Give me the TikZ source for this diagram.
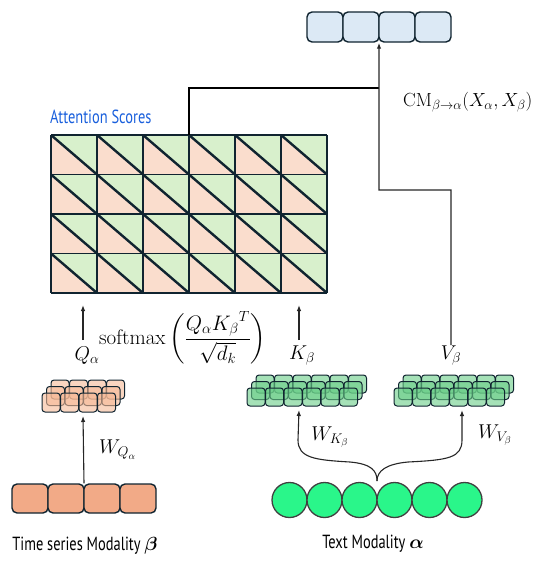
\documentclass[tikz,border=0pt]{standalone}
\usepackage{fix-cm}
\usepackage{amsmath}
\usepackage{amssymb}
\usepackage{bm}
\usepackage{fontspec}
\newfontfamily\capfont[FakeStretch=0.76]{PT Sans}
\usetikzlibrary{calc, arrows.meta}

\definecolor{navy}{RGB}{16,36,48}
\definecolor{cellpink}{RGB}{250,221,205}
\definecolor{cellgreen}{RGB}{216,240,204}
\definecolor{outblue}{RGB}{220,233,245}
\definecolor{salmon}{RGB}{242,170,135}
\definecolor{qsalmon}{RGB}{245,185,150}
\definecolor{kgreen}{RGB}{105,205,135}
\definecolor{tokgreen}{RGB}{42,246,138}
\definecolor{scoreblue}{RGB}{25,95,220}

\begin{document}
\begin{tikzpicture}[x=1pt, y=-1pt,
    outbox/.style={draw=navy, fill=outblue, line width=1.4pt, rounded corners=5pt,
        minimum width=36pt, minimum height=30pt, inner sep=0pt},
    tsbox/.style={draw=navy, fill=salmon, line width=1.4pt, rounded corners=5pt,
        minimum width=36pt, minimum height=29pt, inner sep=0pt},
    token/.style={circle, draw=black!75, fill=tokgreen, line width=1.3pt,
        minimum size=35pt, inner sep=0pt},
    qcell/.style={draw=navy, fill=qsalmon, fill opacity=0.6, line width=1pt,
        rounded corners=3pt},
    kvcell/.style={draw=navy, fill=kgreen, fill opacity=0.6, line width=1pt,
        rounded corners=3pt},
    flow/.style={-{Latex[length=6pt, width=4.5pt]}, line width=1.1pt, black!85},
    mathlbl/.style={font=\fontsize{20}{24}\selectfont, inner sep=1pt},
    caption/.style={font=\capfont\fontsize{19}{22}\selectfont, inner sep=0pt}]

    \useasboundingbox (0,0) rectangle (550,562);

    % attention score grid
    \foreach \c in {0,...,5}
        \foreach \r in {0,...,3} {
            \coordinate (tl) at (51+46*\c, 135+39.5*\r);
            \fill[cellpink] (tl) -- ++(0,39.5) -- ++(46,0) -- cycle;
            \fill[cellgreen] (tl) -- ++(46,0) -- ++(0,39.5) -- cycle;
            \draw[navy, line width=2.4pt] (tl) -- ++(46,39.5);
        }
    \foreach \c in {0,...,6}
        \draw[navy, line width=1.6pt] (51+46*\c,135) -- (51+46*\c,293);
    \foreach \r in {0,...,4}
        \draw[navy, line width=1.6pt] (51,135+39.5*\r) -- (327,135+39.5*\r);
    \node[caption, anchor=base west, text=scoreblue] (scores) at (50,123) {Attention Scores};

    % output tokens
    \foreach \i in {1,...,4}
        \node[outbox] (o\i) at (289+36*\i, 27) {};

    % time series input
    \foreach \i in {1,...,4}
        \node[tsbox] (s\i) at (-6+36*\i, 498.5) {};
    \node[caption, anchor=base] (tsname) at (85,550) {Time series Modality $\bm{\beta}$};

    % text input
    \foreach \i in {1,...,6}
        \node[token] (t\i) at (254.5+35*\i, 500) {};
    \node[caption, anchor=base] (txtname) at (373,548) {Text Modality $\bm{\alpha}$};

    % projected stacks, back layer first
    \foreach \l in {2,1,0} {
        \foreach \k in {0,...,3}
            \draw[qcell] (42+18.5*\k+4.5*\l, 393-6.5*\l) rectangle ++(18,19);
        \foreach \k in {0,...,5} {
            \draw[kvcell] (247+18.5*\k+4.5*\l, 388-6.5*\l) rectangle ++(18,18);
            \draw[kvcell] (394+18.5*\k+4.5*\l, 388-6.5*\l) rectangle ++(18,18);
        }
    }
    \coordinate (qbot) at (83,416);
    \coordinate (kbot) at (299,410);
    \coordinate (vbot) at (462,410);

    % labels
    \node[mathlbl] (qa) at (87,356) {$Q_\alpha$};
    \node[mathlbl] (kb) at (302,356) {$K_\beta$};
    \node[mathlbl] (vb) at (451,356) {$V_\beta$};
    \node[mathlbl, anchor=west] (wq) at (98,450) {$W_{Q_\alpha}$};
    \node[mathlbl] (wk) at (330,437) {$W_{K_\beta}$};
    \node[mathlbl] (wv) at (495,435) {$W_{V_\beta}$};
    \node[mathlbl, font=\fontsize{21}{25}\selectfont, anchor=west] (soft) at (98,338)
        {$\mathrm{softmax}\left(\dfrac{Q_\alpha {K_\beta}^T}{\sqrt{d_k}}\right)$};
    \node[mathlbl, font=\fontsize{19}{23}\selectfont, anchor=west] (cm) at (402,102)
        {$\mathrm{CM}_{\beta\to\alpha}(X_\alpha, X_\beta)$};

    % connectors
    \coordinate (tip) at ($(t3.east)!0.5!(t4.west) + (0,-19)$);
    \coordinate (join) at (379,88);
    \coordinate (bend) at (379,190);
    \coordinate (gtop) at (189,135);
    \draw[flow] ($(s2.north east)!0.5!(s3.north west)$) -- (qbot);
    \draw[flow] (83,340) -- (83,305);
    \draw[flow] (299,340) -- (299,305);
    \draw[flow] (tip) .. controls +(0,-10) and +(22,2) .. (350,462)
        .. controls +(-35,-2) and +(0,18) .. (298,440) -- (kbot);
    \draw[flow] (tip) .. controls +(0,-10) and +(-22,2) .. (408,462)
        .. controls +(40,-2) and +(0,18) .. (462,440) -- (vbot);
    \draw[line width=1.4pt] (gtop) |- (join);
    \draw[flow, line width=1.4pt] (vb.north) |- (bend) -- (join)
        -- ($(o2.south east)!0.5!(o3.south west)$);
\end{tikzpicture}
\end{document}
